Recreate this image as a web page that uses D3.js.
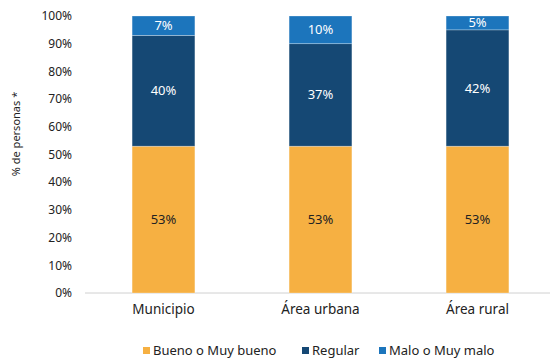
<!DOCTYPE html>
<html><head><meta charset="utf-8">
<script src="https://cdn.jsdelivr.net/npm/d3@7"></script>
<style>body{margin:0;background:#fff}svg{display:block;font-family:"Noto Sans",sans-serif}</style>
</head><body><svg id="c" width="553" height="358"></svg>
<script>
const categories = ["Municipio", "Área urbana", "Área rural"];
const seriesNames = ["Bueno o Muy bueno", "Regular", "Malo o Muy malo"];
const bueno = [53, 53, 53];
const regular = [40, 37, 42];
const malo = [7, 10, 5];
const yTicks = [0,10,20,30,40,50,60,70,80,90,100];
const colors = ["#F6B042", "#154874", "#1C75BC"];
const labelColors = ["#222", "#fff", "#fff"];

const data = categories.map((c,i)=>({cat:c, "Bueno o Muy bueno":bueno[i], "Regular":regular[i], "Malo o Muy malo":malo[i]}));
const stack = d3.stack().keys(seriesNames)(data);

const svg = d3.select("#c");
const x = d3.scaleBand().domain(categories).range([85,556]).paddingInner(0.6).paddingOuter(0.3);
const y = d3.scaleLinear().domain([0,100]).range([293,16]);

// y tick labels
svg.append("g").selectAll("text").data(yTicks).join("text")
  .attr("x",72).attr("y",d=>y(d)).attr("dy","0.35em").attr("text-anchor","end")
  .attr("font-size",12).attr("fill","#222").text(d=>d+"%");

// axis line
svg.append("line").attr("x1",85).attr("x2",550).attr("y1",y(0)).attr("y2",y(0))
  .attr("stroke","#d0d0d0").attr("stroke-width",1);

// bars
stack.forEach((s,si)=>{
  const g = svg.append("g");
  g.selectAll("rect").data(s).join("rect")
    .attr("x",d=>x(d.data.cat)).attr("width",x.bandwidth())
    .attr("y",d=>y(d[1])).attr("height",d=>y(d[0])-y(d[1]))
    .attr("fill",colors[si]).attr("stroke","#fff").attr("stroke-opacity",0.4).attr("stroke-width",0.7);
  g.selectAll("text").data(s).join("text")
    .attr("x",d=>x(d.data.cat)+x.bandwidth()/2).attr("y",d=>(y(d[0])+y(d[1]))/2)
    .attr("dy","0.35em").attr("text-anchor","middle").attr("font-size",13)
    .attr("fill",labelColors[si]).text(d=>(d[1]-d[0])+"%");
});

// x labels
svg.append("g").selectAll("text").data(categories).join("text")
  .attr("x",d=>x(d)+x.bandwidth()/2).attr("y",309).attr("dy","0.35em")
  .attr("text-anchor","middle").attr("font-size",13.5).attr("fill","#222").text(d=>d);

// y title
svg.append("text").attr("transform","translate(16,134) rotate(-90)")
  .attr("text-anchor","middle").attr("dy","0.35em").attr("font-size",11).attr("fill","#222")
  .text("% de personas *");

// legend
const legX = [143, 302, 379];
const leg = svg.append("g");
seriesNames.forEach((n,i)=>{
  leg.append("rect").attr("x",legX[i]).attr("y",347).attr("width",7).attr("height",7).attr("fill",colors[i]);
  leg.append("text").attr("x",legX[i]+10).attr("y",350.5).attr("dy","0.35em").attr("font-size",13)
    .attr("fill","#222").text(n);
});
</script></body></html>
